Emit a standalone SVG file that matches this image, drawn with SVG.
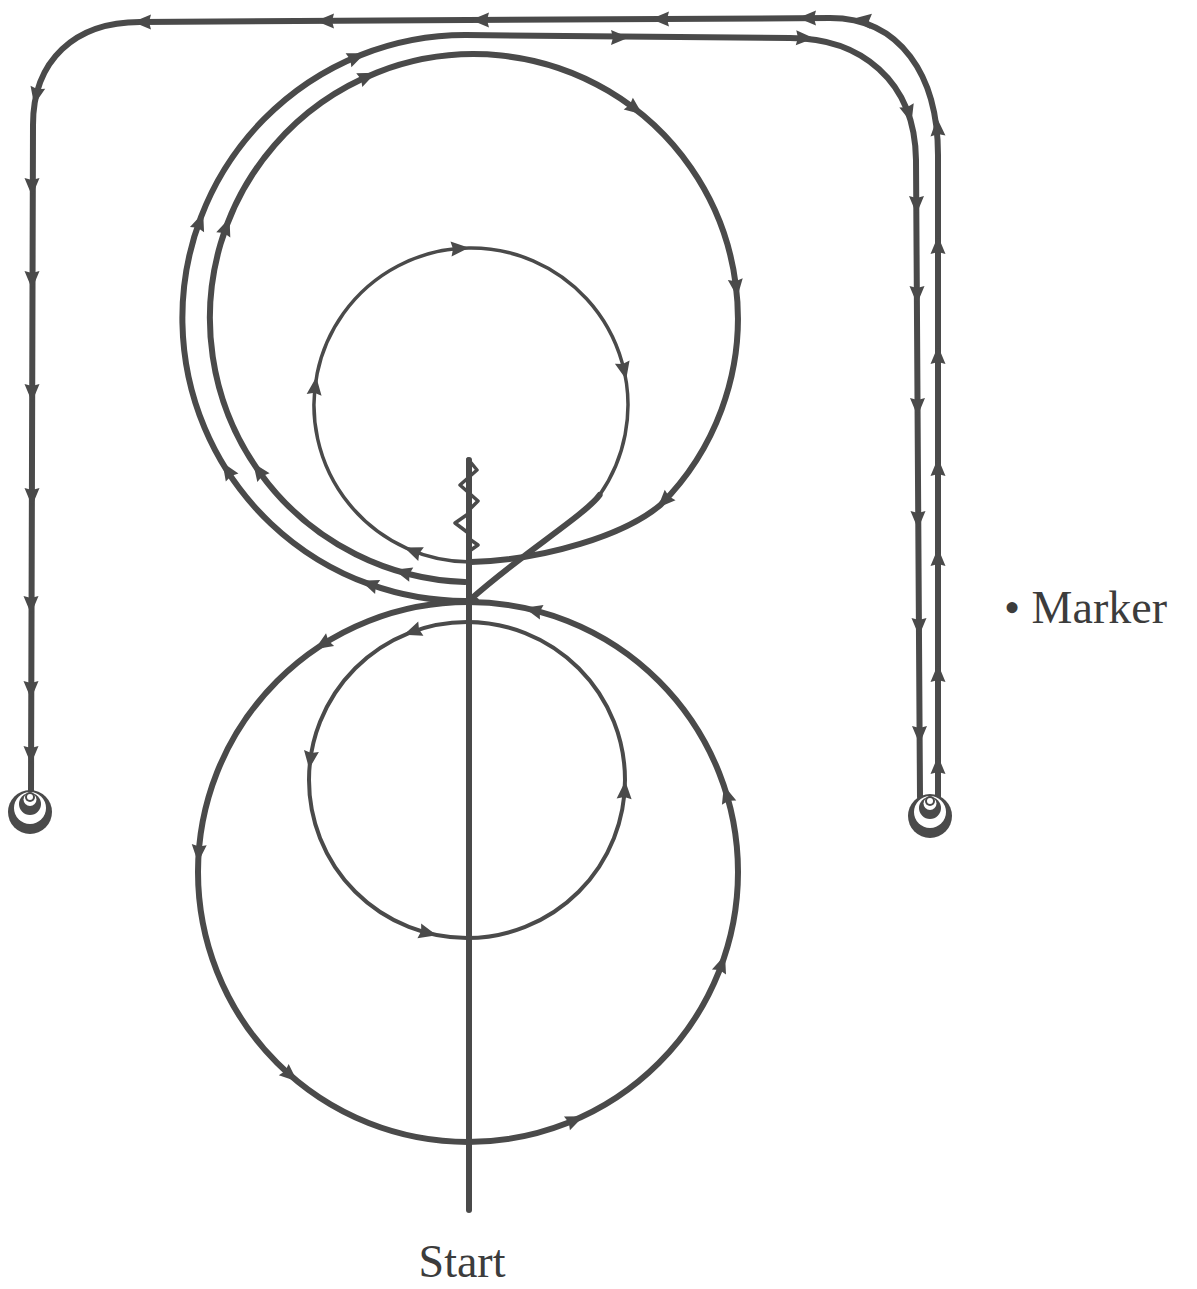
<svg xmlns="http://www.w3.org/2000/svg" xmlns:xlink="http://www.w3.org/1999/xlink" width="1197" height="1289" viewBox="0 0 1197 1289">
<style>
.p{fill:none;stroke:#4a4a4a;stroke-width:6;stroke-linecap:round;stroke-linejoin:round}
.t{fill:none;stroke:#4a4a4a;stroke-width:3.5;stroke-linecap:round;stroke-linejoin:round}
.ah{fill:#4a4a4a}
.d{fill:#4a4a4a}
.w{fill:#ffffff}
.lbl{font-family:"Liberation Serif","Times New Roman",serif;font-size:46px;fill:#3c3c3c}
</style>
<defs>
<path id="ah" d="M9,0 L-9,-7.5 L-7,0 L-9,7.5 Z"/>
<g id="mk">
<circle class="d" cx="0" cy="0" r="22"/>
<circle class="w" cx="0" cy="-4" r="16"/>
<circle class="d" cx="0" cy="-8" r="11"/>
<circle class="w" cx="0" cy="-12.5" r="6.5"/>
<circle class="d" cx="0" cy="-15" r="5"/>
<circle class="w" cx="0" cy="-15" r="3"/>
</g>
</defs>
<rect width="1197" height="1289" fill="#ffffff"/>
<g id="connectors">
<path class="p" d="M938,797 L938,155 C938,75 900,18 830,18 L140,22 C75,22 33,60 33,125 L31,792"/>
<path class="p" d="M476,600.8 A283,283 0 1,1 466,35 L790,38 C860,38 915,80 916,160 L920,797"/>
<path class="p" d="M465,582 A264,264 0 1,1 660.7,504.7 C625,535 545,560 471,562"/>
<path class="t" d="M471,562 A157,157 0 1,1 599.6,495"/>
<path class="p" d="M599.6,495 C585,515 520,555 471,599"/>
<circle class="p" cx="468" cy="872" r="270"/>
<circle class="t" cx="467" cy="780" r="158" style="stroke-width:4"/>
<path class="p" d="M469,1210 L469,460"/>
<path class="t" d="M468,459 L477,470 L460,485 L478,501 L468,511 M468,514 L455,523 L467,532 M468,538 L478,545 L468,552"/>
<g class="ah">
<use xlink:href="#ah" transform="translate(142,22) rotate(180)"/>
<use xlink:href="#ah" transform="translate(325,21) rotate(180)"/>
<use xlink:href="#ah" transform="translate(480,20) rotate(180)"/>
<use xlink:href="#ah" transform="translate(660,19) rotate(180)"/>
<use xlink:href="#ah" transform="translate(807,18) rotate(180)"/>
<use xlink:href="#ah" transform="translate(862,20) rotate(188)"/>
<use xlink:href="#ah" transform="translate(36,96) rotate(102)"/>
<use xlink:href="#ah" transform="translate(32,187) rotate(90)"/>
<use xlink:href="#ah" transform="translate(32,280) rotate(90)"/>
<use xlink:href="#ah" transform="translate(32,393) rotate(90)"/>
<use xlink:href="#ah" transform="translate(32,497) rotate(90)"/>
<use xlink:href="#ah" transform="translate(31,605) rotate(90)"/>
<use xlink:href="#ah" transform="translate(31,690) rotate(90)"/>
<use xlink:href="#ah" transform="translate(31,755) rotate(90)"/>
<use xlink:href="#ah" transform="translate(937.5,127) rotate(-93)"/>
<use xlink:href="#ah" transform="translate(938,245) rotate(-90)"/>
<use xlink:href="#ah" transform="translate(938,355) rotate(-90)"/>
<use xlink:href="#ah" transform="translate(938,467) rotate(-90)"/>
<use xlink:href="#ah" transform="translate(938,557) rotate(-90)"/>
<use xlink:href="#ah" transform="translate(938,673) rotate(-90)"/>
<use xlink:href="#ah" transform="translate(938,765) rotate(-90)"/>
<use xlink:href="#ah" transform="translate(620,37.5) rotate(0)"/>
<use xlink:href="#ah" transform="translate(805,38) rotate(2)"/>
<use xlink:href="#ah" transform="translate(909,114) rotate(74)"/>
<use xlink:href="#ah" transform="translate(916.5,205) rotate(90)"/>
<use xlink:href="#ah" transform="translate(917,295) rotate(90)"/>
<use xlink:href="#ah" transform="translate(917.5,407) rotate(90)"/>
<use xlink:href="#ah" transform="translate(918,520) rotate(90)"/>
<use xlink:href="#ah" transform="translate(919,627) rotate(90)"/>
<use xlink:href="#ah" transform="translate(919.5,735) rotate(90)"/>
<use xlink:href="#ah" transform="translate(356.8,56.8) rotate(337.3)"/>
<use xlink:href="#ah" transform="translate(200.1,221.2) rotate(290)"/>
<use xlink:href="#ah" transform="translate(227.3,470) rotate(237.5)"/>
<use xlink:href="#ah" transform="translate(369.2,583.9) rotate(200)"/>
<use xlink:href="#ah" transform="translate(367.5,76.4) rotate(336.2)"/>
<use xlink:href="#ah" transform="translate(226.4,226.4) rotate(290.3)"/>
<use xlink:href="#ah" transform="translate(258.3,470.2) rotate(234.8)"/>
<use xlink:href="#ah" transform="translate(402.6,572.2) rotate(195.7)"/>
<use xlink:href="#ah" transform="translate(635.4,109.1) rotate(37.7)"/>
<use xlink:href="#ah" transform="translate(736.3,288.1) rotate(83.5)"/>
<use xlink:href="#ah" transform="translate(663.9,501.4) rotate(134)"/>
<use xlink:href="#ah" transform="translate(460,248.4) rotate(-4)"/>
<use xlink:href="#ah" transform="translate(624.2,370.8) rotate(77.4)"/>
<use xlink:href="#ah" transform="translate(412.7,550.8) rotate(201.8)"/>
<use xlink:href="#ah" transform="translate(315.2,385.9) rotate(277)"/>
<use xlink:href="#ah" transform="translate(322.5,644.5) rotate(147.4)"/>
<use xlink:href="#ah" transform="translate(198.6,853.6) rotate(93.9)"/>
<use xlink:href="#ah" transform="translate(290.5,1075.5) rotate(41.1)"/>
<use xlink:href="#ah" transform="translate(575.2,1119.8) rotate(-23.4)"/>
<use xlink:href="#ah" transform="translate(722,963.5) rotate(-70.2)"/>
<use xlink:href="#ah" transform="translate(726.5,794) rotate(-106.8)"/>
<use xlink:href="#ah" transform="translate(533,610) rotate(-166)"/>
<use xlink:href="#ah" transform="translate(310.3,759.9) rotate(97.3)"/>
<use xlink:href="#ah" transform="translate(428,933.1) rotate(14.3)"/>
<use xlink:href="#ah" transform="translate(624.7,789.9) rotate(-86.4)"/>
<use xlink:href="#ah" transform="translate(412.4,631.7) rotate(159.8)"/>
</g>
</g>
<g id="marker-left"><use xlink:href="#mk" transform="translate(30,812)"/></g>
<g id="marker-right"><use xlink:href="#mk" transform="translate(930,816)"/></g>
<g id="label-start"><text class="lbl" x="462" y="1277" text-anchor="middle">Start</text></g>
<g id="label-marker"><text class="lbl" x="1004" y="623">• Marker</text></g>
</svg>
